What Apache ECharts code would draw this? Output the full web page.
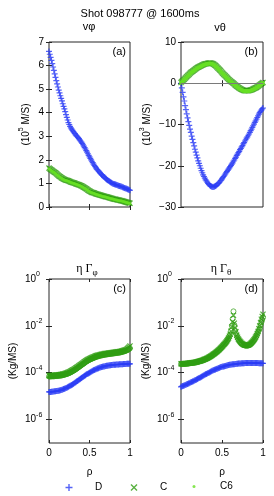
<!DOCTYPE html>
<html><head><meta charset="utf-8">
<script src="https://cdn.jsdelivr.net/npm/echarts@6/dist/echarts.min.js"></script>
<style>html,body{margin:0;padding:0;background:#fff}#c{width:274px;height:496px}</style>
</head><body><div id="c"></div>
<script>
// ---------- data ----------
const rho = [0,0.01,0.02,0.03,0.04,0.05,0.06,0.07,0.08,0.09,0.10,0.11,0.12,0.13,0.14,0.15,0.16,0.17,0.18,0.19,0.20,0.21,0.22,0.23,0.24,0.25,0.26,0.27,0.28,0.29,0.30,0.31,0.32,0.33,0.34,0.35,0.36,0.37,0.38,0.39,0.40,0.41,0.42,0.43,0.44,0.45,0.46,0.47,0.48,0.49,0.50,0.51,0.52,0.53,0.54,0.55,0.56,0.57,0.58,0.59,0.60,0.61,0.62,0.63,0.64,0.65,0.66,0.67,0.68,0.69,0.70,0.71,0.72,0.73,0.74,0.75,0.76,0.77,0.78,0.79,0.80,0.81,0.82,0.83,0.84,0.85,0.86,0.87,0.88,0.89,0.90,0.91,0.92,0.93,0.94,0.95,0.96,0.97,0.98,0.99,1.00];
const xTicks = [0, 0.5, 1];
const logTicks = [1e-6, 1e-4, 1e-2, 1];

// (a) v_phi, 10^5 m/s
const vphiD = [6.60,6.48,6.35,6.22,6.08,5.94,5.80,5.65,5.50,5.36,5.22,5.09,4.96,4.84,4.72,4.61,4.50,4.38,4.27,4.16,4.05,3.92,3.80,3.69,3.58,3.50,3.42,3.36,3.30,3.25,3.20,3.15,3.11,3.06,3.02,2.98,2.94,2.90,2.85,2.80,2.75,2.70,2.64,2.58,2.52,2.46,2.39,2.33,2.26,2.19,2.13,2.06,2.00,1.94,1.88,1.82,1.76,1.71,1.66,1.61,1.57,1.53,1.49,1.45,1.41,1.37,1.34,1.30,1.27,1.24,1.21,1.18,1.15,1.12,1.10,1.07,1.05,1.03,1.01,0.99,0.98,0.96,0.95,0.94,0.93,0.91,0.90,0.89,0.88,0.87,0.86,0.84,0.83,0.81,0.80,0.78,0.77,0.75,0.74,0.72,0.71];
const vphiC = [1.65,1.62,1.60,1.57,1.55,1.52,1.50,1.47,1.45,1.42,1.39,1.36,1.33,1.30,1.28,1.25,1.23,1.21,1.19,1.17,1.16,1.14,1.13,1.12,1.11,1.09,1.08,1.06,1.05,1.04,1.03,1.02,1.01,0.99,0.98,0.96,0.95,0.94,0.93,0.91,0.90,0.88,0.86,0.84,0.82,0.80,0.77,0.75,0.72,0.70,0.68,0.66,0.64,0.62,0.61,0.60,0.59,0.57,0.56,0.55,0.54,0.53,0.52,0.51,0.50,0.49,0.48,0.47,0.46,0.45,0.44,0.43,0.42,0.41,0.40,0.39,0.38,0.37,0.36,0.35,0.34,0.33,0.33,0.32,0.31,0.30,0.30,0.29,0.28,0.27,0.26,0.25,0.24,0.23,0.22,0.21,0.20,0.19,0.18,0.17,0.16];
const vphiC6 = [1.62,1.60,1.57,1.55,1.52,1.50,1.47,1.45,1.42,1.39,1.36,1.34,1.31,1.28,1.26,1.23,1.21,1.19,1.17,1.15,1.14,1.12,1.11,1.10,1.09,1.07,1.06,1.04,1.03,1.02,1.01,1.00,0.99,0.97,0.96,0.94,0.93,0.92,0.91,0.89,0.88,0.86,0.84,0.82,0.80,0.78,0.75,0.73,0.70,0.68,0.66,0.64,0.62,0.60,0.59,0.58,0.57,0.55,0.54,0.53,0.52,0.51,0.50,0.49,0.48,0.47,0.46,0.45,0.44,0.43,0.42,0.41,0.40,0.39,0.38,0.37,0.36,0.355,0.35,0.34,0.33,0.32,0.31,0.30,0.30,0.29,0.28,0.27,0.27,0.26,0.25,0.24,0.23,0.22,0.21,0.20,0.19,0.18,0.17,0.16,0.15];

// (b) v_theta, 10^3 m/s
const vthD = [0.0,-1.1,-2.2,-3.3,-4.3,-5.4,-6.4,-7.4,-8.4,-9.3,-10.2,-11.1,-11.9,-12.8,-13.6,-14.4,-15.2,-16.0,-16.7,-17.4,-18.1,-18.8,-19.4,-20.0,-20.6,-21.2,-21.7,-22.2,-22.6,-23.0,-23.4,-23.7,-24.0,-24.3,-24.5,-24.7,-24.9,-25.0,-25.1,-25.15,-25.1,-25.0,-24.9,-24.8,-24.6,-24.4,-24.2,-24.0,-23.7,-23.5,-23.2,-22.9,-22.6,-22.3,-22.0,-21.7,-21.4,-21.1,-20.8,-20.5,-20.2,-19.9,-19.6,-19.3,-18.9,-18.6,-18.2,-17.9,-17.5,-17.2,-16.8,-16.5,-16.1,-15.8,-15.4,-15.1,-14.7,-14.4,-14.0,-13.7,-13.3,-13.0,-12.6,-12.3,-11.9,-11.5,-11.1,-10.7,-10.3,-9.9,-9.5,-9.1,-8.7,-8.3,-7.9,-7.5,-7.1,-6.8,-6.5,-6.2,-6.0];
const vthC = [0.2,0.4,0.6,0.8,1.0,1.2,1.4,1.6,1.8,2.0,2.2,2.4,2.6,2.75,2.9,3.05,3.2,3.35,3.5,3.65,3.8,3.9,4.0,4.1,4.2,4.3,4.4,4.5,4.6,4.65,4.7,4.75,4.8,4.85,4.9,4.9,4.9,4.85,4.8,4.7,4.6,4.45,4.3,4.1,3.9,3.7,3.5,3.3,3.1,2.85,2.6,2.4,2.2,2.0,1.8,1.6,1.4,1.2,1.0,0.8,0.6,0.45,0.3,0.15,0.0,-0.2,-0.4,-0.55,-0.7,-0.85,-1.0,-1.15,-1.3,-1.4,-1.5,-1.6,-1.7,-1.75,-1.8,-1.8,-1.8,-1.8,-1.8,-1.75,-1.7,-1.65,-1.6,-1.5,-1.4,-1.3,-1.2,-1.1,-1.0,-0.85,-0.7,-0.55,-0.4,-0.25,-0.1,0.05,0.2];
const vthC6 = [0.1,0.3,0.5,0.7,0.9,1.1,1.3,1.5,1.7,1.9,2.1,2.3,2.5,2.65,2.8,2.95,3.1,3.25,3.4,3.55,3.7,3.8,3.9,4.0,4.1,4.2,4.3,4.4,4.5,4.55,4.6,4.65,4.7,4.75,4.8,4.8,4.8,4.75,4.7,4.6,4.5,4.35,4.2,4.0,3.8,3.6,3.4,3.2,3.0,2.75,2.5,2.3,2.1,1.9,1.7,1.5,1.3,1.1,0.9,0.7,0.5,0.35,0.2,0.05,-0.1,-0.3,-0.5,-0.65,-0.8,-0.95,-1.1,-1.25,-1.4,-1.5,-1.6,-1.7,-1.8,-1.85,-1.9,-1.9,-1.9,-1.9,-1.9,-1.85,-1.8,-1.75,-1.7,-1.6,-1.5,-1.4,-1.3,-1.2,-1.1,-0.95,-0.8,-0.65,-0.5,-0.35,-0.2,-0.05,0.1];

// (c) eta Gamma_phi, kg/ms
const gphiD = [1.51e-5,1.51e-5,1.51e-5,1.53e-5,1.55e-5,1.56e-5,1.58e-5,1.60e-5,1.62e-5,1.64e-5,1.66e-5,1.68e-5,1.70e-5,1.74e-5,1.78e-5,1.82e-5,1.86e-5,1.93e-5,2.00e-5,2.07e-5,2.14e-5,2.21e-5,2.29e-5,2.40e-5,2.51e-5,2.63e-5,2.75e-5,2.88e-5,3.02e-5,3.16e-5,3.31e-5,3.51e-5,3.72e-5,3.94e-5,4.17e-5,4.42e-5,4.68e-5,4.96e-5,5.25e-5,5.56e-5,5.89e-5,6.24e-5,6.61e-5,7.00e-5,7.41e-5,7.85e-5,8.32e-5,8.71e-5,9.12e-5,9.55e-5,1.00e-4,1.05e-4,1.10e-4,1.15e-4,1.20e-4,1.26e-4,1.32e-4,1.36e-4,1.41e-4,1.46e-4,1.51e-4,1.56e-4,1.62e-4,1.66e-4,1.70e-4,1.74e-4,1.78e-4,1.82e-4,1.86e-4,1.91e-4,1.95e-4,1.98e-4,2.00e-4,2.02e-4,2.04e-4,2.07e-4,2.09e-4,2.12e-4,2.14e-4,2.17e-4,2.19e-4,2.19e-4,2.19e-4,2.22e-4,2.24e-4,2.24e-4,2.24e-4,2.27e-4,2.29e-4,2.29e-4,2.29e-4,2.32e-4,2.34e-4,2.34e-4,2.34e-4,2.37e-4,2.40e-4,2.40e-4,2.40e-4,2.40e-4,2.40e-4];
const gphiC = [7.59e-5,7.59e-5,7.59e-5,7.68e-5,7.76e-5,7.76e-5,7.76e-5,7.85e-5,7.94e-5,7.94e-5,7.94e-5,8.04e-5,8.13e-5,8.22e-5,8.32e-5,8.41e-5,8.51e-5,8.71e-5,8.91e-5,9.12e-5,9.33e-5,9.55e-5,9.77e-5,1.01e-4,1.05e-4,1.08e-4,1.12e-4,1.17e-4,1.23e-4,1.29e-4,1.35e-4,1.41e-4,1.48e-4,1.57e-4,1.66e-4,1.76e-4,1.86e-4,1.97e-4,2.09e-4,2.21e-4,2.34e-4,2.48e-4,2.63e-4,2.79e-4,2.95e-4,3.13e-4,3.31e-4,3.47e-4,3.63e-4,3.80e-4,3.98e-4,4.12e-4,4.27e-4,4.42e-4,4.57e-4,4.73e-4,4.90e-4,5.07e-4,5.25e-4,5.37e-4,5.50e-4,5.62e-4,5.75e-4,5.89e-4,6.03e-4,6.10e-4,6.17e-4,6.31e-4,6.46e-4,6.53e-4,6.61e-4,6.68e-4,6.76e-4,6.84e-4,6.92e-4,7.00e-4,7.08e-4,7.16e-4,7.24e-4,7.32e-4,7.41e-4,7.50e-4,7.59e-4,7.67e-4,7.76e-4,7.85e-4,7.94e-4,8.04e-4,8.13e-4,8.32e-4,8.51e-4,8.71e-4,8.91e-4,9.12e-4,9.33e-4,9.66e-4,1.00e-3,1.07e-3,1.15e-3,1.26e-3,1.38e-3];
const gphiC6 = [6.9e-5,6.9e-5,6.9e-5,7.0e-5,7.0e-5,7.0e-5,7.0e-5,7.1e-5,7.2e-5,7.2e-5,7.2e-5,7.3e-5,7.4e-5,7.45e-5,7.5e-5,7.6e-5,7.7e-5,7.85e-5,8.0e-5,8.2e-5,8.4e-5,8.6e-5,8.8e-5,9.1e-5,9.4e-5,9.7e-5,1.01e-4,1.05e-4,1.10e-4,1.15e-4,1.21e-4,1.27e-4,1.33e-4,1.41e-4,1.49e-4,1.58e-4,1.67e-4,1.77e-4,1.88e-4,1.99e-4,2.11e-4,2.24e-4,2.37e-4,2.51e-4,2.66e-4,2.82e-4,2.98e-4,3.12e-4,3.27e-4,3.42e-4,3.58e-4,3.71e-4,3.84e-4,3.97e-4,4.11e-4,4.26e-4,4.41e-4,4.56e-4,4.72e-4,4.83e-4,4.95e-4,5.06e-4,5.18e-4,5.30e-4,5.43e-4,5.49e-4,5.55e-4,5.68e-4,5.81e-4,5.88e-4,5.95e-4,6.01e-4,6.08e-4,6.15e-4,6.23e-4,6.30e-4,6.37e-4,6.44e-4,6.52e-4,6.59e-4,6.67e-4,6.75e-4,6.83e-4,6.90e-4,6.98e-4,7.06e-4,7.15e-4,7.23e-4,7.32e-4,7.49e-4,7.66e-4,7.84e-4,8.02e-4,8.21e-4,8.40e-4,8.70e-4,9.0e-4,9.4e-4,9.8e-4,1.04e-3,1.1e-3];

// (d) eta Gamma_theta, kg/ms
const gthD = [2.51e-5,2.60e-5,2.69e-5,2.78e-5,2.88e-5,2.98e-5,3.09e-5,3.20e-5,3.31e-5,3.43e-5,3.55e-5,3.72e-5,3.89e-5,4.03e-5,4.17e-5,4.37e-5,4.57e-5,4.73e-5,4.90e-5,5.13e-5,5.37e-5,5.62e-5,5.89e-5,6.17e-5,6.46e-5,6.76e-5,7.08e-5,7.41e-5,7.76e-5,8.13e-5,8.51e-5,8.91e-5,9.33e-5,9.66e-5,1.00e-4,1.05e-4,1.10e-4,1.15e-4,1.20e-4,1.24e-4,1.29e-4,1.33e-4,1.38e-4,1.43e-4,1.48e-4,1.53e-4,1.58e-4,1.64e-4,1.70e-4,1.74e-4,1.78e-4,1.82e-4,1.86e-4,1.91e-4,1.95e-4,2.00e-4,2.04e-4,2.09e-4,2.14e-4,2.17e-4,2.19e-4,2.22e-4,2.24e-4,2.27e-4,2.29e-4,2.32e-4,2.34e-4,2.37e-4,2.40e-4,2.42e-4,2.45e-4,2.45e-4,2.45e-4,2.48e-4,2.51e-4,2.51e-4,2.51e-4,2.54e-4,2.57e-4,2.57e-4,2.57e-4,2.57e-4,2.57e-4,2.57e-4,2.57e-4,2.57e-4,2.57e-4,2.57e-4,2.57e-4,2.57e-4,2.57e-4,2.57e-4,2.57e-4,2.57e-4,2.57e-4,2.54e-4,2.51e-4,2.51e-4,2.51e-4,2.51e-4,2.51e-4];
const gthC = [2.40e-4,2.40e-4,2.40e-4,2.42e-4,2.45e-4,2.45e-4,2.45e-4,2.48e-4,2.51e-4,2.54e-4,2.57e-4,2.60e-4,2.63e-4,2.66e-4,2.69e-4,2.72e-4,2.75e-4,2.78e-4,2.82e-4,2.88e-4,2.95e-4,3.02e-4,3.09e-4,3.16e-4,3.24e-4,3.31e-4,3.39e-4,3.51e-4,3.63e-4,3.76e-4,3.89e-4,4.03e-4,4.17e-4,4.37e-4,4.57e-4,4.79e-4,5.01e-4,5.31e-4,5.62e-4,5.96e-4,6.31e-4,6.68e-4,7.08e-4,7.59e-4,8.13e-4,8.71e-4,9.33e-4,1.01e-3,1.10e-3,1.19e-3,1.29e-3,1.41e-3,1.55e-3,1.70e-3,1.86e-3,2.06e-3,2.29e-3,2.63e-3,3.02e-3,3.60e-3,4.37e-3,5.9e-3,8.91e-3,1.5e-2,2.82e-2,1.3e-2,7.94e-3,5.6e-3,3.98e-3,3.3e-3,2.75e-3,2.45e-3,2.19e-3,2.0e-3,1.82e-3,1.72e-3,1.62e-3,1.56e-3,1.51e-3,1.49e-3,1.48e-3,1.49e-3,1.51e-3,1.58e-3,1.66e-3,1.78e-3,1.91e-3,2.09e-3,2.29e-3,2.57e-3,2.88e-3,3.35e-3,3.89e-3,4.7e-3,5.75e-3,7.6e-3,1.0e-2,1.4e-2,1.91e-2,2.5e-2,3.16e-2];
const gthC6 = [2.34e-4,2.34e-4,2.34e-4,2.37e-4,2.40e-4,2.40e-4,2.40e-4,2.42e-4,2.45e-4,2.48e-4,2.51e-4,2.54e-4,2.57e-4,2.60e-4,2.63e-4,2.66e-4,2.69e-4,2.72e-4,2.75e-4,2.81e-4,2.88e-4,2.95e-4,3.02e-4,3.09e-4,3.16e-4,3.24e-4,3.31e-4,3.43e-4,3.55e-4,3.67e-4,3.80e-4,3.93e-4,4.07e-4,4.27e-4,4.47e-4,4.68e-4,4.90e-4,5.19e-4,5.50e-4,5.83e-4,6.17e-4,6.53e-4,6.92e-4,7.41e-4,7.94e-4,8.51e-4,9.12e-4,9.88e-4,1.07e-3,1.16e-3,1.26e-3,1.38e-3,1.51e-3,1.66e-3,1.82e-3,2.02e-3,2.24e-3,2.57e-3,2.95e-3,3.55e-3,4.27e-3,6.2e-3,1.0e-2,2.0e-2,4.17e-2,1.1e-2,6.31e-3,4.8e-3,3.72e-3,3.1e-3,2.63e-3,2.34e-3,2.09e-3,1.90e-3,1.74e-3,1.64e-3,1.55e-3,1.50e-3,1.45e-3,1.43e-3,1.41e-3,1.43e-3,1.45e-3,1.51e-3,1.58e-3,1.70e-3,1.82e-3,2.0e-3,2.19e-3,2.45e-3,2.75e-3,3.2e-3,3.72e-3,4.5e-3,5.50e-3,6.6e-3,7.94e-3,1.06e-2,1.41e-2,1.78e-2,2.24e-2];

// ---------- style ----------
const FONT = '"Liberation Sans", Arial, sans-serif';
const SERIF = '"Liberation Serif", "DejaVu Serif", serif';
const BLUE = '#2b3cf5';
const GREEN = '#2f9e12';
const LIME = '#66e024';
const AX = '#262626';
const PLUS = 'path://M4,0H6V4H10V6H6V10H4V6H0V4H4Z';
const CROSS = 'path://M0,1.4L1.4,0L5,3.6L8.6,0L10,1.4L6.4,5L10,8.6L8.6,10L5,6.4L1.4,10L0,8.6L3.6,5Z';

const grids = [
  {left: 49, top: 42, width: 81, height: 165},
  {left: 181, top: 42, width: 82, height: 165},
  {left: 49, top: 279, width: 81, height: 164},
  {left: 181, top: 279, width: 82, height: 164}
].map(g => Object.assign(g, {show: true, borderColor: AX, borderWidth: 1, backgroundColor: '#fff'}));

const tick = {inside: true, length: 3, lineStyle: {color: AX, width: 1}};
const lbl = {fontSize: 10, color: '#000', fontFamily: FONT};
const supRich = {
  b: {fontSize: 10, fontFamily: FONT, color: '#000', lineHeight: 16},
  s: {fontSize: 7, fontFamily: FONT, color: '#000', lineHeight: 8, verticalAlign: 'top'}
};

function xAxes(gi, showLabel) {
  const base = {gridIndex: gi, type: 'value', min: 0, max: 1, interval: 0.5,
    axisLine: {show: false}, splitLine: {show: false}, axisTick: tick};
  return [
    Object.assign({}, base, {position: 'bottom',
      axisLabel: Object.assign({show: showLabel, margin: 5, customValues: xTicks, formatter: v => String(v)}, lbl),
      name: showLabel ? 'ρ' : '', nameLocation: 'middle', nameGap: 24,
      nameTextStyle: lbl}),
    Object.assign({}, base, {position: 'top', axisLabel: {show: false}})
  ];
}
function yLin(gi, min, max, interval, name, gap) {
  const base = {gridIndex: gi, type: 'value', min, max, interval,
    axisLine: {show: false}, splitLine: {show: false}, axisTick: tick};
  return [
    Object.assign({}, base, {position: 'left',
      axisLabel: Object.assign({margin: 5, formatter: v => String(v).replace('-', '\u2212')}, lbl),
      name, nameLocation: 'middle', nameRotate: 90, nameGap: gap,
      nameTextStyle: Object.assign({rich: supRich}, lbl)}),
    Object.assign({}, base, {position: 'right', axisLabel: {show: false}})
  ];
}
function logFmt(v) {
  const e = v > 0 ? Math.round(Math.log10(v)) : Math.round(v);
  return '{b|10}{s|' + e + '}';
}
function yLog(gi, name, gap) {
  const base = {gridIndex: gi, type: 'log', logBase: 10, min: 1e-7, max: 1,
    axisLine: {show: false}, splitLine: {show: false},
    axisTick: Object.assign({customValues: logTicks}, tick)};
  return [
    Object.assign({}, base, {position: 'left',
      axisLabel: Object.assign({customValues: logTicks, margin: 24, align: 'left', formatter: logFmt, rich: supRich}, lbl),
      name, nameLocation: 'middle', nameRotate: 90, nameGap: gap, nameTextStyle: lbl}),
    Object.assign({}, base, {position: 'right', axisLabel: {show: false}})
  ];
}

function sc(name, vals, gi, symbol, size, itemStyle, extra) {
  return Object.assign({
    type: 'scatter', name, xAxisIndex: gi * 2, yAxisIndex: gi * 2,
    data: rho.map((r, k) => [r, vals[k]]),
    symbol, symbolSize: size, itemStyle, clip: false, silent: true
  }, extra || {});
}
const plusStyle = {color: BLUE};
const crossStyle = {color: GREEN};
const dotStyle = {color: LIME};
const ringStyle = {color: 'rgba(0,0,0,0)', borderColor: GREEN, borderWidth: 0.9};

const series = [
  sc('D', vphiD, 0, PLUS, 6, plusStyle),
  sc('C', vphiC, 0, CROSS, 6, crossStyle),
  sc('C6', vphiC6, 0, 'circle', 3, dotStyle),
  sc('D', vthD, 1, PLUS, 6, plusStyle, {markLine: {silent: true, symbol: 'none', label: {show: false},
      lineStyle: {color: '#7a7a7a', width: 1, type: 'solid'}, data: [{yAxis: 0}]}}),
  sc('C', vthC, 1, CROSS, 6, crossStyle),
  sc('C6', vthC6, 1, 'circle', 4, dotStyle),
  sc('D', gphiD, 2, PLUS, 6, plusStyle),
  sc('C', gphiC, 2, CROSS, 6, crossStyle),
  sc('C6', gphiC6, 2, 'circle', 5, ringStyle),
  sc('D', gthD, 3, PLUS, 6, plusStyle),
  sc('C', gthC, 3, CROSS, 6, crossStyle),
  sc('C6', gthC6, 3, 'circle', 5, ringStyle)
];

function txt(x, y, text, size, extra) {
  return {type: 'text', x, y, silent: true, style: Object.assign({text, fill: '#000',
    fontSize: size, fontFamily: FONT, align: 'center', verticalAlign: 'middle'}, extra || {})};
}
const subRich = {
  g: {fontSize: 12, fontFamily: SERIF, fill: '#000', lineHeight: 16},
  u: {fontSize: 9, fontFamily: SERIF, fill: '#000', lineHeight: 10, verticalAlign: 'bottom'}
};

function legendAt(name, left, top, icon, ih) {
  return {data: [{name, icon}], left, top, padding: 0, itemGap: 0,
    itemWidth: 42, itemHeight: ih, selectedMode: false,
    textStyle: {fontSize: 10, color: '#000', fontFamily: FONT, padding: [0, 0, 0, 0]}};
}

const option = {
  animation: false,
  backgroundColor: '#fff',
  grid: grids,
  xAxis: [].concat(xAxes(0, false), xAxes(1, false), xAxes(2, true), xAxes(3, true)),
  yAxis: [].concat(
    yLin(0, 0, 7, 1, '{b|(10}{s|5}{b| M/S)}', 15),
    yLin(1, -30, 10, 10, '{b|(10}{s|3}{b| M/S)}', 26),
    yLog(2, '(Kg/MS)', 31),
    yLog(3, '(Kg/MS)', 30)
  ),
  legend: [
    legendAt('D', 65.5, 482.5, PLUS, 7),
    legendAt('C', 130.5, 482.5, CROSS, 7),
    legendAt('C6', 192.5, 481.5, 'circle', 3)
  ],
  series,
  graphic: [
    txt(140, 14, 'Shot 098777 @ 1600ms', 11),
    txt(89, 27, 'vφ', 11),
    txt(220, 28, 'vθ', 11),
    txt(87, 269, '{g|η Γ}{u|φ}', 12, {rich: subRich}),
    txt(221, 269, '{g|η Γ}{u|θ}', 12, {rich: subRich}),
    txt(126, 52, '(a)', 11, {align: 'right'}),
    txt(258, 52, '(b)', 11, {align: 'right'}),
    txt(126, 289, '(c)', 11, {align: 'right'}),
    txt(258, 289, '(d)', 11, {align: 'right'})
  ]
};
const chart = echarts.init(document.getElementById('c'), null, {renderer: 'canvas'});
chart.setOption(option);
</script>
</body></html>
